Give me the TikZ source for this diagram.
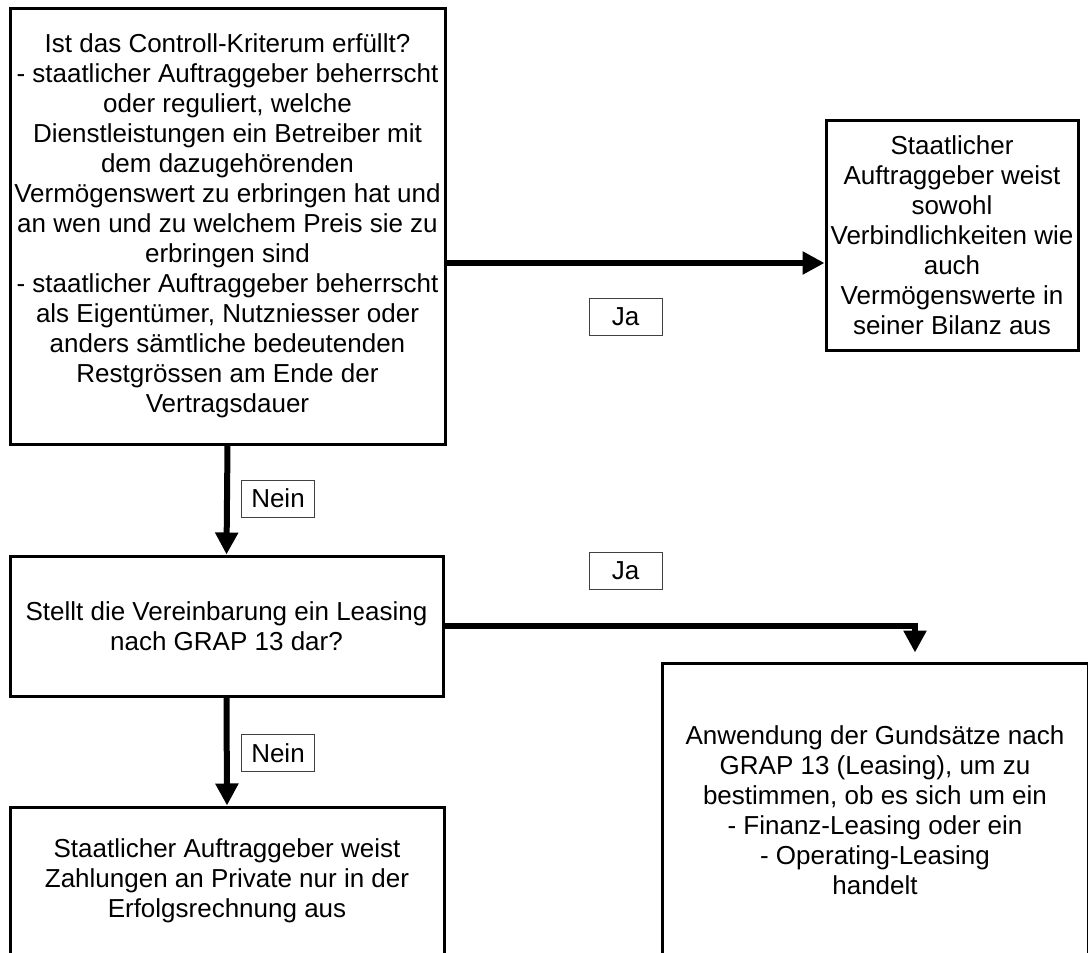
\documentclass[tikz,border=0pt]{standalone}
\usepackage{fontspec}
\setmainfont{Liberation Sans}
\usetikzlibrary{arrows.meta}

\begin{document}
\begin{tikzpicture}[x=1pt,y=-1pt,
  box/.style={draw, line width=3pt, rectangle, align=center, inner sep=0pt,
              font=\fontsize{26}{30}\selectfont},
  tag/.style={draw=black!75, line width=1pt, rectangle, minimum width=73pt,
              minimum height=37pt, inner sep=0pt, font=\fontsize{26}{30}\selectfont},
  flow/.style={line width=6pt, -{Triangle[width=22pt,length=22pt]}},
]
\useasboundingbox (0,0) rectangle (1088,953);
\clip (0,0) rectangle (1088,953);

% decision and result boxes
\node[box, minimum width=435pt, minimum height=436pt] (b1) at (227.5,226)
  {Ist das Controll-Kriterum erfüllt?\\
   - staatlicher Auftraggeber beherrscht\\
   oder reguliert, welche\\
   Dienstleistungen ein Betreiber mit\\
   dem dazugehörenden\\
   Vermögenswert zu erbringen hat und\\
   an wen und zu welchem Preis sie zu\\
   erbringen sind\\
   - staatlicher Auftraggeber beherrscht\\
   als Eigentümer, Nutzniesser oder\\
   anders sämtliche bedeutenden\\
   Restgrössen am Ende der\\
   Vertragsdauer};

\node[box, minimum width=252pt, minimum height=230pt] (b2) at (952,235)
  {Staatlicher\\Auftraggeber weist\\sowohl\\Verbindlichkeiten wie\\auch\\Vermögenswerte in\\seiner Bilanz aus};

\node[box, minimum width=433pt, minimum height=140pt] (b3) at (226.5,626)
  {Stellt die Vereinbarung ein Leasing\\nach GRAP 13 dar?};

\node[box, minimum width=426pt, minimum height=294pt] (b4) at (875,810)
  {Anwendung der Gundsätze nach\\GRAP 13 (Leasing), um zu\\bestimmen, ob es sich um ein\\- Finanz-Leasing oder ein\\- Operating-Leasing\\handelt};

\node[box, minimum width=434pt, minimum height=148pt] (b5) at (227,881)
  {Staatlicher Auftraggeber weist\\Zahlungen an Private nur in der\\Erfolgsrechnung aus};

% answer labels
\node[tag] (ja1) at (625.5,316.5) {Ja};
\node[tag] (n1)  at (278,498.5) {Nein};
\node[tag] (ja2) at (625.5,571) {Ja};
\node[tag] (n2)  at (278,753) {Nein};

% connectors
\coordinate (y1) at (0,263);
\coordinate (k4) at (915,0);
\draw[flow] (b1.east |- y1) -- (b2.west |- y1);
\draw[flow] (b1.south) -- (b3.north);
\draw[flow, shorten >=9pt] (b3.east) -| (b4.north -| k4);
\draw[flow] (b3.south) -- (b5.north);
\end{tikzpicture}
\end{document}
